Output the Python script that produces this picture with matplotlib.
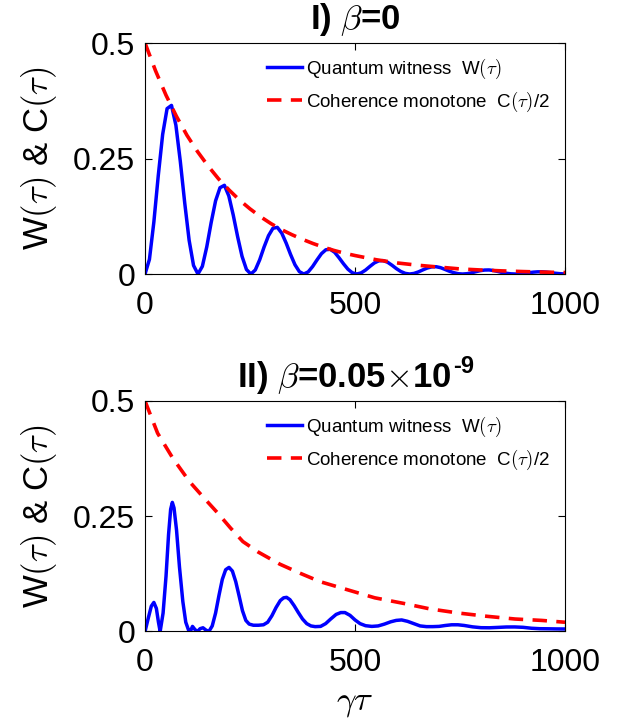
import numpy as np
import matplotlib
matplotlib.use("Agg")
import matplotlib.pyplot as plt

plt.rcParams['font.family'] = ['Liberation Sans', 'DejaVu Sans']
plt.rcParams['mathtext.fontset'] = 'cm'

# panel I: beta = 0
tau1 = np.arange(0, 1000, 10.5)
w1 = [0, 0.0317, 0.1123, 0.2127, 0.3023, 0.3580, 0.3650, 0.3220, 0.2438, 0.1540, 0.0730, 0.0185,
      0, 0.0166, 0.0588, 0.1115, 0.1585, 0.1868, 0.1920, 0.1690, 0.1277, 0.0807, 0.0382, 0.0097,
      0, 0.0087, 0.0308, 0.0585, 0.0830, 0.0990, 0.1010, 0.0885, 0.0670, 0.0423, 0.0200, 0.0051,
      0, 0.0046, 0.0162, 0.0306, 0.0440, 0.0525, 0.0535, 0.0470, 0.0351, 0.0222, 0.0105, 0.0027,
      0, 0.0024, 0.0085, 0.0165, 0.0240, 0.0285, 0.0290, 0.0255, 0.0190, 0.0116, 0.0055, 0.0014,
      0, 0.0013, 0.0046, 0.0090, 0.0130, 0.0155, 0.0158, 0.0138, 0.0100, 0.0061, 0.0029, 0.0007,
      0, 0.0007, 0.0025, 0.0050, 0.0072, 0.0086, 0.0088, 0.0076, 0.0055, 0.0032, 0.0015, 0.0004,
      0, 0.0003, 0.0014, 0.0028, 0.0040, 0.0047, 0.0048, 0.0041, 0.0030, 0.0017, 0.0008, 0.0002]
tc1 = [0, 25, 50, 75, 100, 125, 150, 175, 200, 225, 250, 275, 300, 325, 350, 375, 400,
       425, 450, 475, 500, 550, 600, 650, 700, 750, 800, 850, 900, 950, 1000]
c1 = [0.5, 0.440, 0.387, 0.341, 0.300, 0.265, 0.234, 0.206, 0.182, 0.160, 0.141, 0.124,
      0.109, 0.096, 0.085, 0.075, 0.066, 0.058, 0.051, 0.045, 0.040, 0.031, 0.024, 0.019,
      0.015, 0.011, 0.0087, 0.0068, 0.0053, 0.0041, 0.0032]

# panel II: beta = 0.05e-9
tau2 = [0, 8, 15, 21, 27, 32, 36, 43, 50, 56, 61, 65, 69, 75, 82, 90, 97, 104, 108, 113,
        119, 125, 131, 138, 145, 152, 160, 168, 176, 184, 192, 200, 208, 216, 224, 232, 240,
        248, 258, 270, 282, 292, 302, 312, 322, 330, 337, 345, 355, 365, 375, 385, 395, 405,
        418, 430, 442, 455, 466, 476, 488, 500, 512, 525, 540, 555, 570, 585, 598, 611, 625,
        640, 655, 670, 685, 700, 715, 730, 745, 760, 780, 800, 820, 840, 860, 880, 900, 920,
        940, 960, 980, 1000]
w2 = [0, 0.030, 0.055, 0.063, 0.050, 0.020, 0.0, 0.040, 0.120, 0.210, 0.265, 0.280, 0.268,
      0.220, 0.140, 0.065, 0.020, 0.002, 0.0, 0.011, 0.004, 0.0, 0.006, 0.008, 0.003, 0.0,
      0.012, 0.040, 0.078, 0.113, 0.134, 0.139, 0.131, 0.108, 0.077, 0.045, 0.024, 0.016,
      0.0135, 0.0135, 0.0145, 0.020, 0.034, 0.052, 0.067, 0.073, 0.074, 0.069, 0.056, 0.041,
      0.027, 0.017, 0.012, 0.0105, 0.011, 0.017, 0.027, 0.037, 0.041, 0.041, 0.035, 0.025,
      0.017, 0.0125, 0.011, 0.012, 0.016, 0.021, 0.024, 0.025, 0.022, 0.017, 0.012, 0.0105,
      0.0105, 0.011, 0.013, 0.0145, 0.0145, 0.013, 0.010, 0.0082, 0.008, 0.0088, 0.0097,
      0.0098, 0.009, 0.007, 0.006, 0.0058, 0.0055, 0.0054]
tc2 = [0, 30, 66, 106, 140, 173, 203, 233, 270, 321, 370, 417, 480, 547, 615, 678, 746,
       813, 881, 944, 1000]
c2 = [0.5, 0.430, 0.376, 0.325, 0.290, 0.257, 0.225, 0.195, 0.172, 0.146, 0.126, 0.108,
      0.091, 0.073, 0.061, 0.049, 0.040, 0.033, 0.027, 0.024, 0.020]

titles = [r'I) $\beta$=0', r'II) $\beta$=0.05$\times$10']
title_sup = [None, '-9']
xticks = [0, 500, 1000]
yticks = [0, 0.25, 0.5]
yticklabels = ['0', '0.25', '0.5']

fig = plt.figure(figsize=(6.3, 7.23), dpi=100)
ax1 = fig.add_axes([0.2302, 0.621, 0.6667, 0.3195])
ax2 = fig.add_axes([0.2302, 0.1266, 0.6667, 0.3188])

title_objs = []
panels = [(ax1, tau1, w1, tc1, c1), (ax2, tau2, w2, tc2, c2)]
for i, (ax, t, w, tc, c) in enumerate(panels):
    ax.plot(t, w, color='blue', lw=2.5, label=r'Quantum witness  W$(\tau)$')
    ax.plot(tc, c, color='red', lw=2.6, linestyle=(0, (4, 2.6)),
            label=r'Coherence monotone  C$(\tau)$/2')
    ax.set_xlim(0, 1000)
    ax.set_ylim(0, 0.5)
    ax.set_xticks(xticks)
    ax.set_yticks(yticks)
    ax.set_yticklabels(yticklabels)
    ax.tick_params(direction='in', top=True, right=True, length=5, width=0.8,
                   labelsize=23)
    ax.tick_params(axis='x', pad=12)
    ax.tick_params(axis='y', pad=7)
    title_objs.append(ax.set_title(titles[i], fontsize=25, fontweight='bold', pad=10))
    ax.set_ylabel(r'W$(\tau)$ & C$(\tau)$', fontsize=25, labelpad=10)
    ax.legend(loc='upper left', bbox_to_anchor=(0.29, 0.94), frameon=False,
              fontsize=13.5, borderaxespad=0, borderpad=0, handlelength=1.9,
              handletextpad=0.2, labelspacing=0.45)

ax2.set_xlabel(r'$\gamma\tau$', fontsize=25, labelpad=6)

# bold sans superscript after the second title
fig.canvas.draw()
r = fig.canvas.get_renderer()
for i, ttl in enumerate(title_objs):
    if title_sup[i] is None:
        continue
    sup = fig.text(0, 0, title_sup[i], fontsize=17, fontweight='bold',
                   ha='left', va='top')
    sw = sup.get_window_extent(r).width
    axw = ttl.axes.get_window_extent(r).width
    ttl.set_x(0.5 - 0.5 * sw / axw)
    fig.canvas.draw()
    bb = ttl.get_window_extent(r)
    W, H = fig.get_size_inches() * fig.dpi
    sup.set_position((bb.x1 / W + 0.002, (bb.y1 + 4) / H))

fig.savefig('out.png', dpi=100)
